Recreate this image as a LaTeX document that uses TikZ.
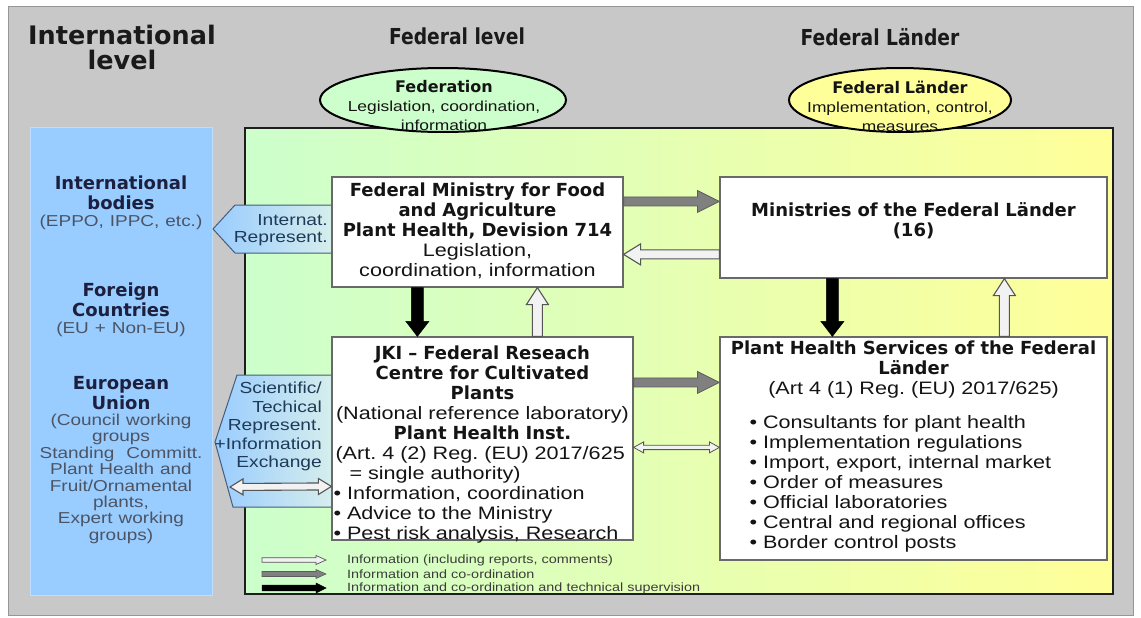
\documentclass[tikz,border=0pt]{standalone}
\usepackage{fontspec}
\setmainfont{Liberation Sans}[FakeStretch=1.2]
\newfontfamily\dvfont{DejaVu Sans}
\newfontfamily\cdfont{DejaVu Sans}[FakeStretch=0.85]
\usetikzlibrary{calc,shapes.geometric}
\definecolor{lgreen}{RGB}{204,255,204}
\definecolor{lyellow}{RGB}{255,255,153}
\definecolor{lblue}{RGB}{153,204,255}
\definecolor{pblue}{RGB}{214,238,236}
\definecolor{navy}{RGB}{28,32,62}
\definecolor{bluegray}{RGB}{76,84,100}
\definecolor{pentext}{RGB}{30,58,88}
\newcommand\hb{\dvfont\bfseries}
\newcommand\gry{\color{bluegray}\fontsize{15.8}{16.4}\selectfont}
\newcommand\lft[1]{\makebox[\linewidth][l]{#1}}
% block arrow: style, from, to, half shaft, head length, half head
\newcommand\blockarrow[6]{%
  \path[#1] ($(#2)!#4!90:(#3)$) -- ($(#3)!#5!(#2)!#4!-90:(#2)$)
    -- ($(#3)!#5!(#2)!#6!-90:(#2)$) -- (#3)
    -- ($(#3)!#5!(#2)!#6!90:(#2)$) -- ($(#3)!#5!(#2)!#4!90:(#2)$)
    -- ($(#2)!#4!-90:(#3)$) -- cycle;}
\newcommand\dblarrow[6]{%
  \path[#1] ($(#2)!#5!(#3)!#4!90:(#3)$) -- ($(#3)!#5!(#2)!#4!-90:(#2)$)
    -- ($(#3)!#5!(#2)!#6!-90:(#2)$) -- (#3)
    -- ($(#3)!#5!(#2)!#6!90:(#2)$) -- ($(#3)!#5!(#2)!#4!90:(#2)$)
    -- ($(#2)!#5!(#3)!#4!-90:(#3)$) -- ($(#2)!#5!(#3)!#6!-90:(#3)$)
    -- (#2) -- ($(#2)!#5!(#3)!#6!90:(#3)$) -- cycle;}

\begin{document}
\frenchspacing
\begin{tikzpicture}[x=1pt,y=-1pt,
  head/.style={inner sep=0pt,anchor=north,align=center,font=\dvfont\bfseries\fontsize{25.5}{25}\selectfont,text={rgb,255:red,26;green,26;blue,26}},
  colhead/.style={inner sep=0pt,anchor=north,align=center,font=\cdfont\bfseries\fontsize{22}{24}\selectfont,text={rgb,255:red,26;green,26;blue,26}},
  box/.style={draw={rgb,255:red,105;green,105;blue,105},fill=white,line width=1.2pt,inner sep=0pt},
  txt/.style={inner sep=0pt,anchor=north,align=center,font=\fontsize{18}{20}\selectfont,text={rgb,255:red,20;green,20;blue,20}},
  ovaltxt/.style={txt,text width=230pt,font=\fontsize{14.5}{19}\selectfont},
  bluetxt/.style={txt,text width=180pt,text=navy},
  ptxt/.style={inner sep=0pt,anchor=north east,align=right,text width=110pt,font=\fontsize{16}{17}\selectfont,text=pentext},
  oval/.style={ellipse,draw=black,line width=2pt,minimum height=64pt,inner sep=0pt},
  hollow/.style={fill={rgb,255:red,242;green,242;blue,242},draw={rgb,255:red,85;green,85;blue,85},line width=1.1pt,line join=miter},
  grayarr/.style={fill={rgb,255:red,128;green,128;blue,128},draw={rgb,255:red,92;green,92;blue,92},line width=0.8pt,line join=miter},
  blackarr/.style={fill=black,draw=black,line width=0.5pt,line join=miter},
  legend/.style={anchor=west,inner sep=0pt,font=\fontsize{12}{12}\selectfont,text={rgb,255:red,60;green,60;blue,60}}]
% 1141 x 618, gray frame with three levels
\useasboundingbox (0,0) rectangle (1141,618);
\path[fill={rgb,255:red,200;green,200;blue,200},draw={rgb,255:red,150;green,150;blue,150},line width=1pt] (8,7) rectangle (1133,615);
\node[head] (hintl) at (122,24.5) {International\\level};
\node[colhead] (hfed) at (457,28) {Federal level};
\node[colhead] (hland) at (880,28) {Federal Länder};

\path[fill=lblue,draw={rgb,255:red,190;green,222;blue,255},line width=1pt] (30,127) rectangle (212,595);
\node[bluetxt] (intl) at (121,175.8) {{\hb International\\ bodies\par}{\gry (EPPO, IPPC, etc.)\par}};
\node[bluetxt] (foreign) at (121,282.8) {{\hb Foreign\\ Countries\par}{\gry (EU + Non-EU)\par}};
\node[bluetxt] (eu) at (121,375.8) {{\hb European\\ Union\par}{\gry (Council working\\ groups\\ Standing~ Committ.\\ Plant Health and\\ Fruit/Ornamental\\ plants,\\ Expert working\\ groups)\par}};

\path[left color=lgreen,right color=lyellow,draw={rgb,255:red,30;green,30;blue,30},line width=2pt] (245,128) rectangle (1113,594);

\path[left color=lblue,right color=pblue,draw={rgb,255:red,70;green,92;blue,125},line width=1pt] (332,205) -- (235,205) -- (213,229) -- (235,253) -- (332,253);
\node[ptxt] (intrep) at (328,214) {Internat.\\ Represent.};
\path[left color=lblue,right color=pblue,draw={rgb,255:red,70;green,92;blue,125},line width=1pt] (332,375) -- (237,375) -- (215,442) -- (233,507) -- (332,507);
\node[ptxt,font=\fontsize{16}{18.5}\selectfont] (scirep) at (322,382) {Scientific/\\ Techical\\ Represent.\\ +Information\\ Exchange};

\node[oval,fill=lgreen,minimum width=246pt] (fed) at (443,100) {};
\node[ovaltxt] (fedtxt) at (444,80.5) {{\hb\fontsize{16}{19}\selectfont Federation\par}Legislation, coordination,\\ information};
\node[oval,fill=lyellow,minimum width=222pt] (land) at (900,100) {};
\node[ovaltxt] (landtxt) at (900,80.5) {{\hb\fontsize{16}{19}\selectfont Federal Länder\par}Implementation, control,\\ measures};

\node[box,minimum width=291pt,minimum height=110pt] (bmel) at (477.5,232) {};
\node[txt,text width=291pt] (bmeltxt) at (477.5,182.8) {{\hb Federal Ministry for Food\\ and Agriculture\\ Plant Health, Devision 714\\}Legislation,\hspace*{46pt}\\ coordination, information};
\node[box,minimum width=301pt,minimum height=203pt] (jki) at (482.5,438.5) {};
\node[txt,text width=298pt] (jkitxt) at (482.5,345.8) {{\hb JKI – Federal Reseach\\ Centre for Cultivated\\ Plants\\}(National reference laboratory)\\ {\hb Plant Health Inst.\\}\lft{\hspace*{2pt}(Art. 4 (2) Reg. (EU) 2017/625}\\ \lft{\hspace*{16pt}= single authority)}\\ \lft{\textbullet\ Information, coordination}\\ \lft{\textbullet\ Advice to the Ministry}\\ \lft{\textbullet\ Pest risk analysis, Research}};
\node[box,minimum width=387pt,minimum height=101pt] (lmin) at (913.5,227.5) {};
\node[txt,text width=380pt] (lmintxt) at (913.5,202.8) {{\hb Ministries of the Federal Länder\\ (16)}};
\node[box,minimum width=387pt,minimum height=223pt] (phs) at (913.5,448.5) {};
\node[txt,text width=380pt] (phstxt) at (913.5,340.8) {{\hb Plant Health Services of the Federal\\ Länder\\}(Art 4 (1) Reg. (EU) 2017/625)\par\vspace{14pt}
  \lft{\hspace*{26pt}\textbullet\ Consultants for plant health}\\ \lft{\hspace*{26pt}\textbullet\ Implementation regulations}\\ \lft{\hspace*{26pt}\textbullet\ Import, export, internal market}\\ \lft{\hspace*{26pt}\textbullet\ Order of measures}\\ \lft{\hspace*{26pt}\textbullet\ Official laboratories}\\ \lft{\hspace*{26pt}\textbullet\ Central and regional offices}\\ \lft{\hspace*{26pt}\textbullet\ Border control posts}};

\blockarrow{grayarr}{[yshift=-25pt]bmel.north east}{[yshift=-25pt]lmin.north west}{4.5pt}{22pt}{11pt}
\blockarrow{hollow}{[yshift=-78pt]lmin.north west}{[yshift=-78pt]bmel.north east}{4.5pt}{17pt}{10.5pt}
\blockarrow{blackarr}{[xshift=86pt]bmel.south west}{[xshift=86pt]jki.north west}{6pt}{15pt}{11.5pt}
\blockarrow{hollow}{[xshift=206pt]jki.north west}{[xshift=206pt]bmel.south west}{5pt}{17pt}{11pt}
\blockarrow{grayarr}{[yshift=-46pt]jki.north east}{[yshift=-46pt]phs.north west}{4.5pt}{22pt}{11pt}
\dblarrow{hollow,line width=0.8pt}{[yshift=-111pt]jki.north east}{[yshift=-111pt]phs.north west}{2.2pt}{10pt}{5.5pt}
\blockarrow{blackarr}{[xshift=113pt]lmin.south west}{[xshift=113pt]phs.north west}{6pt}{15pt}{11.5pt}
\blockarrow{hollow}{[xshift=285pt]phs.north west}{[xshift=285pt]lmin.south west}{5pt}{17pt}{11pt}
\coordinate (exl) at (230,487);
\dblarrow{hollow}{exl}{[yshift=-150pt]jki.north west}{3.5pt}{13pt}{8pt}

% legend
\coordinate (lw1) at (262,560); \coordinate (lw2) at (326,560);
\coordinate (lg1) at (262,574); \coordinate (lg2) at (326,574);
\coordinate (lb1) at (262,588); \coordinate (lb2) at (326,588);
\blockarrow{hollow,line width=0.7pt}{lw1}{lw2}{2.3pt}{10pt}{4.5pt}
\blockarrow{grayarr,line width=0.6pt}{lg1}{lg2}{2.5pt}{10pt}{4.5pt}
\blockarrow{blackarr}{lb1}{lb2}{2.8pt}{10pt}{5pt}
\node[legend] (leg1) at (347,560) {Information (including reports, comments)};
\node[legend] (leg2) at (347,574) {Information and co-ordination};
\node[legend] (leg3) at (347,588) {Information and co-ordination and technical supervision};
\end{tikzpicture}
\end{document}
